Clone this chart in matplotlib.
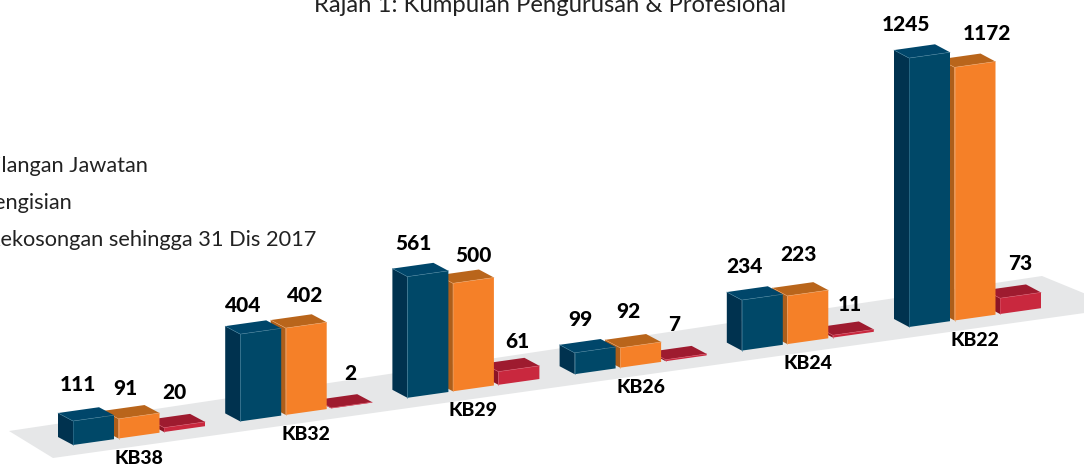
#!/usr/bin/env python3
import matplotlib
matplotlib.use('Agg')
import matplotlib.pyplot as plt
from matplotlib.patches import Polygon

plt.rcParams['font.family'] = ['Lato', 'DejaVu Sans']

# data
categories = ['KB38', 'KB32', 'KB29', 'KB26', 'KB24', 'KB22']
bilangan_jawatan = [111, 404, 561, 99, 234, 1245]
pengisian = [91, 402, 500, 92, 223, 1172]
kekosongan = [20, 2, 61, 7, 11, 73]
legend_labels = ['Bilangan Jawatan', 'Pengisian', 'Kekosongan sehingga 31 Dis 2017']
title = 'Rajah 1: Kumpulan Pengurusan & Profesional'

# label nudges from the bar's front top corner, one row per series
nudge_x = [[5, 3, 6, 6, 3, -3], [7, 19, 21, 8, 11, 32], [10, 19, 19, 9, 17, 20]]
nudge_y = [[-37, -29, -33, -33, -34, -34], [-30, -33, -28, -36, -41, -34], [-35, -34, -30, -35, -31, -35]]

# front, side, top, edge
navy = ('#004868', '#00324f', '#00466a', '#3f7c98')
orange = ('#f58028', '#ad5e1a', '#b9651b', '#e8a065')
red = ('#c9283e', '#8c1526', '#9e1b2f', '#d5566a')

# page layout of the fake 3d, in pixels
px_per_unit = 0.216
group_dx, group_dy = 167.2, -23.6
bar_w, bar_slope = 41, -5.8
depth_x, depth_y = -15, -8
start_x, start_y = 73, 445
series_dx, series_dy = 45.5, -6.5

fig = plt.figure(figsize=(10.84, 4.68), dpi=100)
ax = fig.add_axes([0, 0, 1, 1])
ax.set_xlim(0, 1084)
ax.set_ylim(468, 0)
ax.axis('off')

# grey floor
ax.add_patch(Polygon([(9, 431), (1042, 276), (1120, 308), (53, 458)], color='#e6e7e8', lw=0, zorder=0))


def draw_bar(x, y, value, colours, z):
    front, side, top, edge = colours
    h = value * px_per_unit
    fl, fr = (x, y - h), (x + bar_w, y + bar_slope - h)
    bl, br = (x, y), (x + bar_w, y + bar_slope)
    back_l = (fl[0] + depth_x, fl[1] + depth_y)
    back_r = (fr[0] + depth_x, fr[1] + depth_y)
    floor_l = (x + depth_x, y + depth_y)
    ax.add_patch(Polygon([floor_l, bl, fl, back_l], color=side, lw=0, zorder=z))
    ax.add_patch(Polygon([back_l, back_r, fr, fl], color=top, lw=0, zorder=z))
    ax.add_patch(Polygon([fl, fr, br, bl], color=front, lw=0, zorder=z))
    ax.plot([back_l[0], fl[0], fr[0]], [back_l[1], fl[1], fr[1]],
            color=edge, lw=0.4, zorder=z + 0.5)
    ax.plot([fl[0], bl[0]], [fl[1], bl[1]], color=edge, lw=0.4, zorder=z + 0.5)


all_series = [bilangan_jawatan, pengisian, kekosongan]
all_colours = [navy, orange, red]

for g, cat in enumerate(categories):
    gx = start_x + g * group_dx
    gy = start_y + g * group_dy
    # red first, navy last so it sits over the orange side
    for s in [2, 1, 0]:
        x = gx + s * series_dx
        y = gy + s * series_dy
        draw_bar(x, y, all_series[s][g], all_colours[s], 1 + (2 - s))
        ax.text(x + nudge_x[s][g], y - all_series[s][g] * px_per_unit + nudge_y[s][g],
                str(all_series[s][g]), ha='center', va='center', fontsize=15,
                fontweight='black', color='black', zorder=10)
    ax.text(gx + 66, gy + 13, cat, ha='center', va='center', fontsize=14,
            fontweight='black', color='black', zorder=10)

ax.text(550, 12, title, ha='center', va='baseline', fontsize=17.2, color='#222222')
legend_right = [148, 72, 316]
for i, lab in enumerate(legend_labels):
    ax.text(legend_right[i], 172 + i * 37, lab, ha='right', va='baseline', fontsize=15.7, color='#222222')

fig.savefig('out.png', dpi=100)
